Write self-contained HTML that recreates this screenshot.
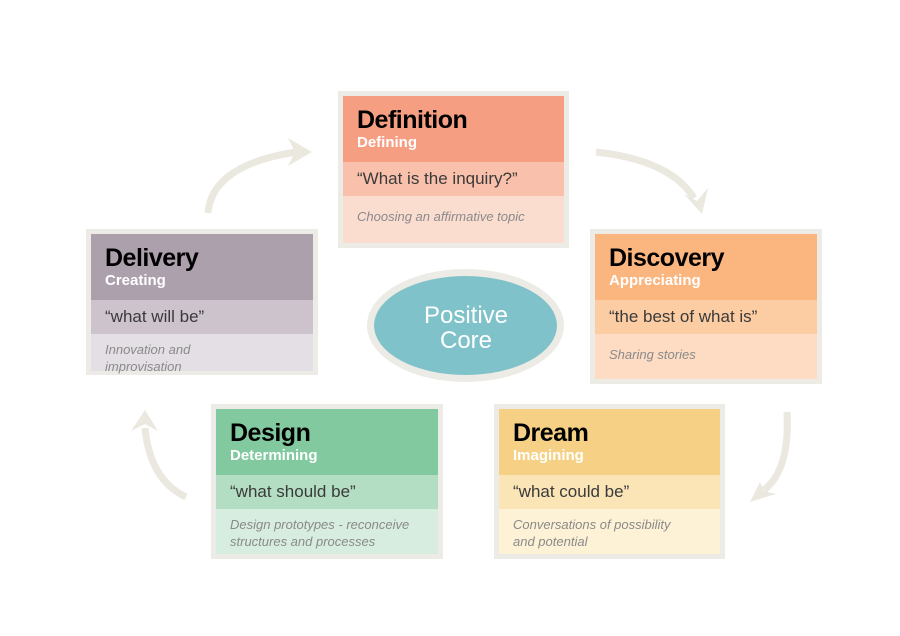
<!DOCTYPE html>
<html><head><meta charset="utf-8"><style>
body{margin:0;width:900px;height:636px;background:#fff;position:relative;overflow:hidden;font-family:"Liberation Sans",sans-serif}
.box{position:absolute;background:#ecebe5;padding:5px;box-sizing:border-box}
.h{height:66px;position:relative}
.h b{position:absolute;left:14px;top:10px;font-size:25px;color:#000;letter-spacing:-0.5px}
.h span{position:absolute;left:14px;top:38px;font-size:15px;font-weight:bold;color:#fff}
.q{height:34px;line-height:34px;padding-left:14px;font-size:17px;color:#3a3a3a}
.d{padding:12px 14px 0;font-size:13px;font-style:italic;color:#8a8a8a;line-height:17px;box-sizing:border-box}
</style></head><body>
<svg width="900" height="636" style="position:absolute;left:0;top:0">
<g fill="none" stroke="#ebe8e0" stroke-width="7">
<path d="M208 213 Q212 165 296 152"/>
<path d="M596 152 Q670 160 694 198"/>
<path d="M787 412 Q790 470 764 490"/>
<path d="M186 497 Q150 480 145 428"/>
</g>
<g fill="#ebe8e0">
<polygon points="312,152 288,138 295,152 288,166"/>
<polygon points="702,214 684,194 697,201 708,188"/>
<polygon points="750,502 760,482 764,491 776,494"/>
<polygon points="145,410 131,431 145,424 158,431"/>
</g>
<ellipse cx="465.5" cy="325.5" rx="98.5" ry="56.5" fill="#ecebe5"/>
<ellipse cx="465.5" cy="325.5" rx="91.5" ry="49.5" fill="#7fc2c9"/>
<text x="466" y="323" text-anchor="middle" font-size="24" fill="#fff" font-family="Liberation Sans">Positive</text>
<text x="466" y="348" text-anchor="middle" font-size="24" fill="#fff" font-family="Liberation Sans">Core</text>
</svg>

<div class="box" style="left:338px;top:91px;width:231px;height:157px">
<div class="h" style="background:#f59e82"><b>Definition</b><span>Defining</span></div>
<div class="q" style="background:#f9c1ab">“What is the inquiry?”</div>
<div class="d" style="background:#fbddd0;height:47px">Choosing an affirmative topic</div>
</div>

<div class="box" style="left:86px;top:229px;width:232px;height:146px">
<div class="h" style="background:#ada0ad"><b>Delivery</b><span>Creating</span></div>
<div class="q" style="background:#ccc3cc">“what will be”</div>
<div class="d" style="background:#e3dfe4;height:37px;padding-top:7px">Innovation and<br>improvisation</div>
</div>

<div class="box" style="left:590px;top:229px;width:232px;height:155px">
<div class="h" style="background:#fbb57e"><b>Discovery</b><span>Appreciating</span></div>
<div class="q" style="background:#fccca3">“the best of what is”</div>
<div class="d" style="background:#fddcc3;height:45px">Sharing stories</div>
</div>

<div class="box" style="left:211px;top:404px;width:232px;height:155px">
<div class="h" style="background:#82c9a0"><b>Design</b><span>Determining</span></div>
<div class="q" style="background:#b3dec3">“what should be”</div>
<div class="d" style="background:#d7ede0;height:45px;padding-top:7px">Design prototypes - reconceive<br>structures and processes</div>
</div>

<div class="box" style="left:494px;top:404px;width:231px;height:155px">
<div class="h" style="background:#f6d185"><b>Dream</b><span>Imagining</span></div>
<div class="q" style="background:#fbe5b7">“what could be”</div>
<div class="d" style="background:#fdf1d6;height:45px;padding-top:7px">Conversations of possibility<br>and potential</div>
</div>
</body></html>
